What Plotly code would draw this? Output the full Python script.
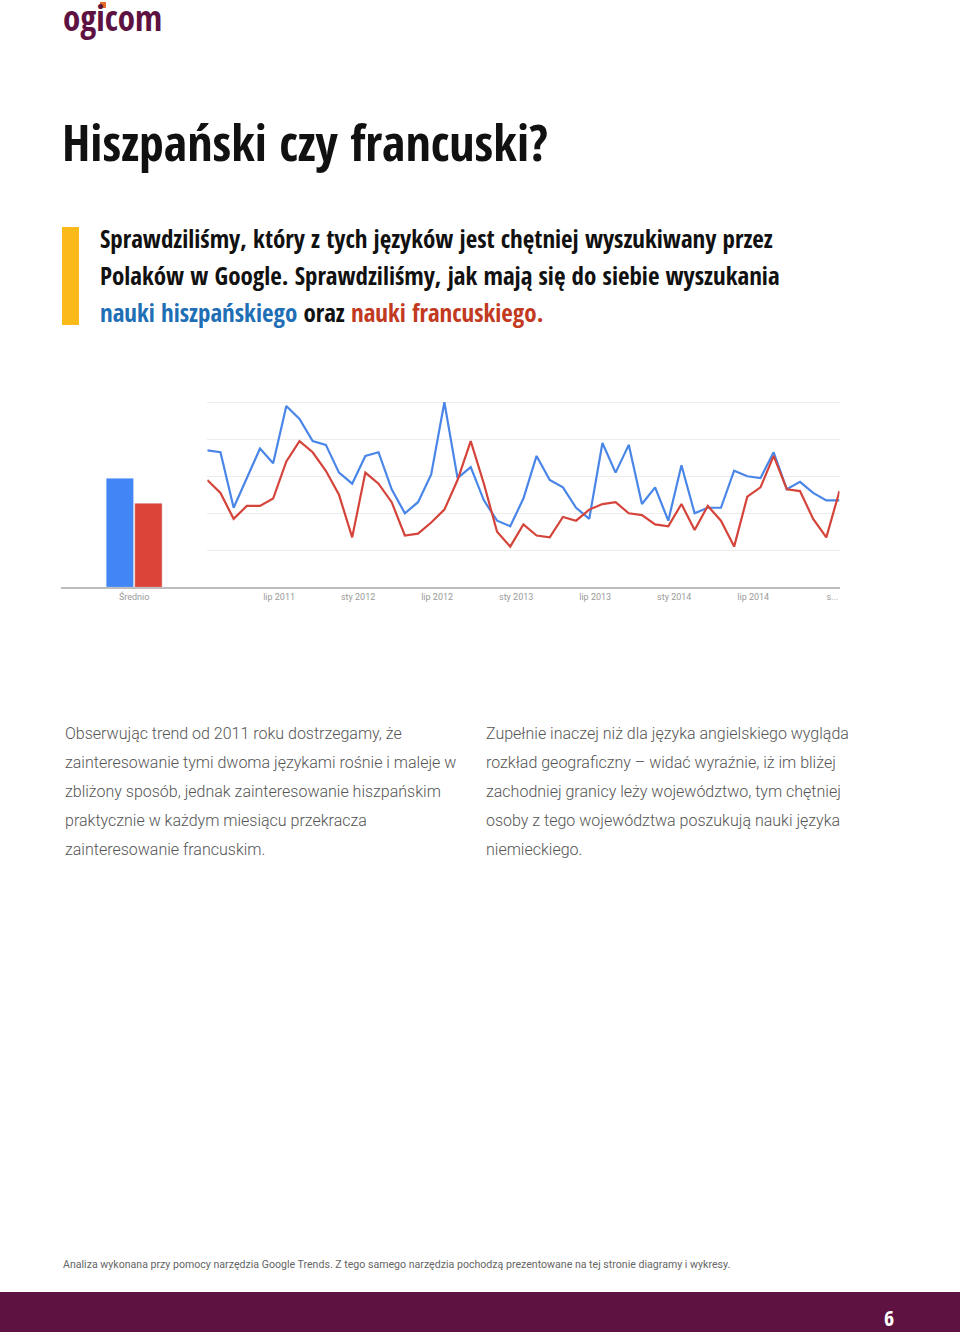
import plotly.graph_objects as go

W, H = 960, 1332

# ---- data ----
bar_category = ["Średnio"]
bar_hiszpanski = [59]
bar_francuski = [45.5]

month_index = list(range(49))  # sty 2011 .. sty 2015, monthly
hiszpanski = [74, 73, 43, 59, 75, 67, 98, 91, 79, 77,
              62, 56, 71, 73, 53, 40, 46, 61, 100, 59,
              65, 47, 36, 33, 48, 71, 58, 54, 43, 37,
              78, 62, 77, 45, 54, 36, 66, 40, 43, 43,
              63, 60, 59, 73, 53, 57, 51, 47, 47]
francuski = [58, 51, 37, 44, 44, 48, 68, 79, 73, 63,
             50, 27, 62, 56, 46, 28, 29, 35, 42, 58,
             79, 56, 30, 22, 34, 28, 27, 38, 36, 42,
             45, 46, 40, 39, 34, 33, 45, 31, 44, 36,
             22, 49, 54, 71, 53, 52, 37, 27, 52]
tick_labels = ["lip 2011", "sty 2012", "lip 2012", "sty 2013",
               "lip 2013", "sty 2014", "lip 2014", "s..."]
tick_months = [6, 12, 18, 24, 30, 36, 42, 48]

COND = "Open Sans Condensed, Liberation Sans Narrow, DejaVu Sans Condensed, Arial Narrow, Open Sans"
BLUE_L = "#4A86E8"
RED_L = "#D5443A"
BLUE_B = "#4285F4"
RED_B = "#DB4437"
PURPLE = "#5E1242"


def px(x):
    return x / W


def py(y):
    return 1 - y / H


y_bottom = 587.3
y_top = y_bottom - 1.85 * 102
ydom = [py(y_bottom), py(y_top)]

fig = go.Figure()

fig.add_trace(go.Bar(x=bar_category, y=bar_hiszpanski, marker_color=BLUE_B,
                     xaxis="x", yaxis="y", showlegend=False, hoverinfo="skip"))
fig.add_trace(go.Bar(x=bar_category, y=bar_francuski, marker_color=RED_B,
                     xaxis="x", yaxis="y", showlegend=False, hoverinfo="skip"))

fig.add_trace(go.Scatter(x=month_index, y=hiszpanski, mode="lines",
                         line=dict(color=BLUE_L, width=2.2),
                         xaxis="x2", yaxis="y2", showlegend=False))
fig.add_trace(go.Scatter(x=month_index, y=francuski, mode="lines",
                         line=dict(color=RED_L, width=2.2),
                         xaxis="x2", yaxis="y2", showlegend=False))

tickvals = [m - 0.55 for m in tick_months]

fig.update_layout(
    width=W, height=H,
    margin=dict(l=0, r=0, t=0, b=0),
    paper_bgcolor="white", plot_bgcolor="white",
    bargap=0.61, bargroupgap=0.04,
    xaxis=dict(domain=[px(61), px(207.3)], type="category",
               showline=True, linecolor="#bdbdbd", linewidth=1.5,
               showgrid=False, ticks="",
               tickfont=dict(family="Roboto, Arial", size=9, color="#9a9a9a")),
    yaxis=dict(domain=ydom, range=[0, 102], visible=False, showgrid=False),
    xaxis2=dict(domain=[px(207.3), px(839.5)], range=[0, 48],
                showline=True, linecolor="#bdbdbd", linewidth=1.5,
                showgrid=False, zeroline=False, ticks="",
                tickmode="array", tickvals=tickvals, ticktext=tick_labels,
                tickfont=dict(family="Roboto, Arial", size=9, color="#9a9a9a")),
    yaxis2=dict(domain=ydom, range=[0, 102], anchor="x2",
                tickvals=[20, 40, 60, 80, 100], showticklabels=False,
                showgrid=True, gridcolor="#ececec", gridwidth=1,
                zeroline=False, showline=False),
)

ann = []


def text(x, y, s, size, color, family, xanchor="left", weight=None):
    f = dict(size=size, color=color, family=family)
    if weight is not None:
        f["weight"] = weight
    ann.append(dict(x=px(x), y=py(y), xref="paper", yref="paper", text=s,
                    showarrow=False, xanchor=xanchor, yanchor="middle",
                    align="left", font=f))


# logo
text(61, 17, "ogicom", 35, PURPLE, COND, weight=700)

# title
text(60, 142, "Hiszpański czy francuski?", 50, "#111111", COND, weight=700)

# lead
lead = [
    "Sprawdziliśmy, który z tych języków jest chętniej wyszukiwany przez",
    "Polaków w Google. Sprawdziliśmy, jak mają się do siebie wyszukania",
    "<span style='color:#1F6FB6'>nauki hiszpańskiego</span> oraz "
    "<span style='color:#C23A1F'>nauki francuskiego.</span>",
]
for i, s in enumerate(lead):
    text(98, 238 + 37 * i, s, 25, "#111111", COND, weight=700)

left_col = [
    "Obserwując trend od 2011 roku dostrzegamy, że",
    "zainteresowanie tymi dwoma językami rośnie i maleje w",
    "zbliżony sposób, jednak zainteresowanie hiszpańskim",
    "praktycznie w każdym miesiącu przekracza",
    "zainteresowanie francuskim.",
]
right_col = [
    "Zupełnie inaczej niż dla języka angielskiego wygląda",
    "rozkład geograficzny – widać wyraźnie, iż im bliżej",
    "zachodniej granicy leży województwo, tym chętniej",
    "osoby z tego województwa poszukują nauki języka",
    "niemieckiego.",
]
for i, s in enumerate(left_col):
    text(63, 733 + 29 * i, s, 16, "#555555", "Roboto", weight=300)
for i, s in enumerate(right_col):
    text(484, 733 + 29 * i, s, 16, "#555555", "Roboto", weight=300)

text(61, 1264, "Analiza wykonana przy pomocy narzędzia Google Trends. Z tego samego "
     "narzędzia pochodzą prezentowane na tej stronie diagramy i wykresy.",
     10.6, "#666666", "Roboto")

ann.append(dict(x=px(888.5), y=py(1317), xref="paper", yref="paper", text="6",
                showarrow=False, xanchor="center", yanchor="middle",
                font=dict(size=22, color="white", family=COND, weight=700)))

fig.update_layout(annotations=ann)

shapes = [
    dict(type="rect", xref="paper", yref="paper", x0=px(62), x1=px(79),
         y0=py(325), y1=py(227), fillcolor="#FBBA1A", line_width=0, layer="below"),
    dict(type="rect", xref="paper", yref="paper", x0=0, x1=1,
         y0=0, y1=py(1292), fillcolor=PURPLE, line_width=0, layer="below"),
    dict(type="rect", xref="paper", yref="paper", x0=px(100), x1=px(106),
         y0=py(8), y1=py(2), fillcolor="#E8692A", line_width=0, layer="above"),
]
fig.update_layout(shapes=shapes)

fig.write_html(
    "out.html",
    config={"displayModeBar": False},
    post_script="document.body.style.margin='0';document.body.style.padding='0';"
                "document.documentElement.style.overflow='hidden';",
)
